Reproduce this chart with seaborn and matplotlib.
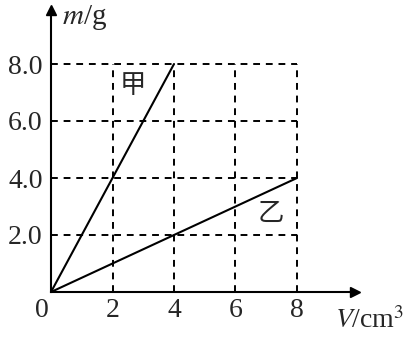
import matplotlib
matplotlib.use("Agg")
import matplotlib.pyplot as plt
import seaborn as sns
import pandas as pd

sns.set_style("white")
plt.rcParams['font.family'] = ['Liberation Serif', 'Noto Sans CJK SC', 'DejaVu Sans']
plt.rcParams['mathtext.fontset'] = 'stix'

# data
volume_jia = [0, 4]
mass_jia = [0, 8]
volume_yi = [0, 8]
mass_yi = [0, 4]
x_ticks = [2, 4, 6, 8]
x_tick_labels = ["2", "4", "6", "8"]
y_ticks = [2, 4, 6, 8]
y_tick_labels = ["2.0", "4.0", "6.0", "8.0"]

df = pd.concat([
    pd.DataFrame({"V": volume_jia, "m": mass_jia, "s": "甲"}),
    pd.DataFrame({"V": volume_yi, "m": mass_yi, "s": "乙"}),
])

fig = plt.figure(figsize=(4.09, 3.37), dpi=100)
W, H = 409, 337
x0, y0 = 51, 292
xmax, ymax = 9.9, 9.9
px_x, px_y = 30.75, 28.5
ax = fig.add_axes([x0 / W, (H - y0) / H, xmax * px_x / W, ymax * px_y / H])

# dashed grid
dash = dict(color="black", lw=1.4, ls=(0, (3.5, 3)))
for xv in x_ticks:
    ax.plot([xv, xv], [0, max(y_ticks)], **dash)
for yv in y_ticks:
    ax.plot([0, max(x_ticks)], [yv, yv], **dash)

sns.lineplot(data=df, x="V", y="m", hue="s", palette=["black", "black"],
             linewidth=1.5, legend=False, ax=ax, sort=False)

ax.set_xlim(0, xmax)
ax.set_ylim(0, ymax)
ax.set_xticks(x_ticks)
ax.set_xticklabels(x_tick_labels)
ax.set_yticks(y_ticks)
ax.set_yticklabels(y_tick_labels)
ax.tick_params(length=0, labelsize=20)
ax.tick_params(axis="y", pad=6)
ax.tick_params(axis="x", pad=4)
ax.set_xlabel("")
ax.set_ylabel("")
for s in ["top", "right"]:
    ax.spines[s].set_visible(False)
for s in ["left", "bottom"]:
    ax.spines[s].set_color("black")
    ax.spines[s].set_linewidth(1.5)

# axis arrows
ax.plot(1, 0, ">", color="black", markersize=7, transform=ax.transAxes, clip_on=False)
ax.plot(0, 1, "^", color="black", markersize=7, transform=ax.transAxes, clip_on=False)

ax.text(-0.3, -0.2, "0", fontsize=20, ha="center", va="top")
ax.text(2.67, 7.26, "甲", fontsize=19, ha="center", va="center",
        family=['Noto Sans CJK SC', 'DejaVu Sans'])
ax.text(7.15, 2.75, "乙", fontsize=19, ha="center", va="center",
        family=['Noto Sans CJK SC', 'DejaVu Sans'])

fig.text(62 / W, 1 - 18 / H, r"$m$/g", fontsize=21, ha="left", va="center")
fig.text(404 / W, 1 - 321 / H, r"$V$/cm$^3$", fontsize=20, ha="right", va="center")

fig.savefig("out.png", dpi=100, facecolor="white")
